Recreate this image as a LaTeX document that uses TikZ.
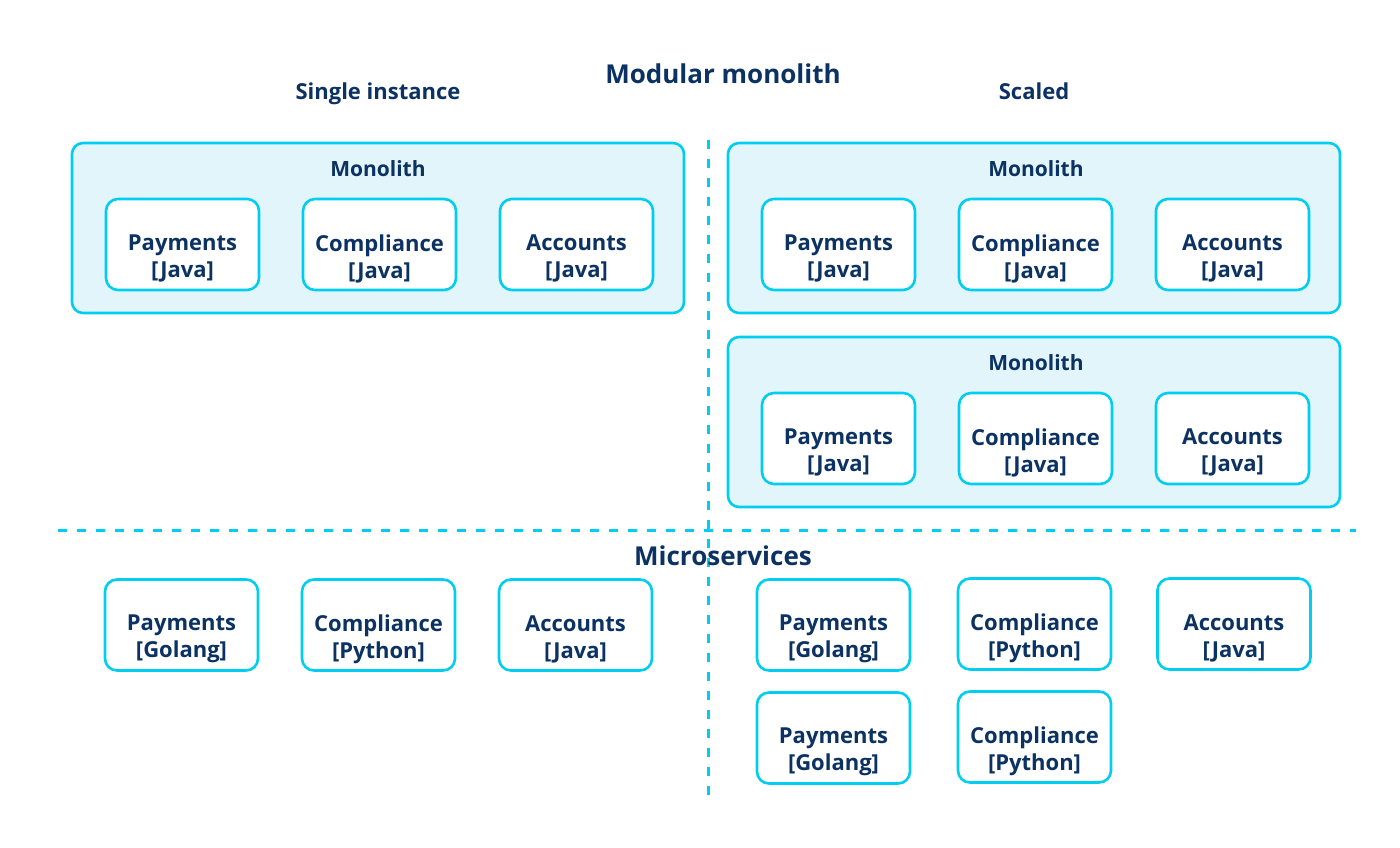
\documentclass[tikz,border=0pt]{standalone}
\usepackage{fontspec}
\setmainfont{Open Sans}[BoldFont={Open Sans Bold}]
\definecolor{cyanb}{HTML}{00CEF0}
\definecolor{lightf}{HTML}{E2F5FB}
\definecolor{navy}{HTML}{0B3262}
\tikzset{
  every node/.style={text=navy, font=\bfseries},
  outerbox/.style={draw=cyanb, fill=lightf, line width=2.6pt, rounded corners=11pt},
  svc/.style={draw=cyanb, fill=white, line width=2.6pt, rounded corners=12pt, minimum width=153pt, minimum height=91pt, inner sep=0pt},
  svctext/.style={align=center, font=\fontsize{22}{27}\selectfont\bfseries, inner sep=0pt, yshift=-14pt},
  divider/.style={draw=cyanb, line width=3pt, dash pattern=on 9pt off 10pt},
  boxtitle/.style={font=\fontsize{21}{25}\selectfont\bfseries, anchor=base},
  subtitle/.style={font=\fontsize{22}{26}\selectfont\bfseries, anchor=base},
  maintitle/.style={font=\fontsize{26}{30}\selectfont\bfseries, anchor=base},
}
\newcommand{\svcnode}[5]{\node[svc, label={[svctext]center:#4\\{}#5}] (#1) at (#2,#3) {};}
\begin{document}
\begin{tikzpicture}[x=1pt,y=-1pt]
\useasboundingbox (0,0) rectangle (1400,847);
% dividers
\coordinate (vtop) at (708,140);
\coordinate (vbot) at (708,802);
\coordinate (hl) at (58,530);
\coordinate (hr) at (1356,530);
\draw[divider] (vtop) -- (vbot);
\draw[divider] (hl) -- (hr);
% titles
\node[maintitle] (mm) at (723,83) {Modular monolith};
\node[subtitle] (si) at (378,99) {Single instance};
\node[subtitle] (sc) at (1034,99) {Scaled};
\node[maintitle] (ms) at (723,565) {Microservices};
% monolith boxes
\draw[outerbox] (72,143) rectangle (684,313);
\node[boxtitle] (m1) at (378,176) {Monolith};
\svcnode{p1}{182.5}{244.5}{Payments}{[Java]}
\svcnode{c1}{379.5}{244.5}{Compliance}{[Java]}
\svcnode{a1}{576.5}{244.5}{Accounts}{[Java]}

\draw[outerbox] (728,143) rectangle (1340,313);
\node[boxtitle] (m2) at (1036,176) {Monolith};
\svcnode{p2}{838.5}{244.5}{Payments}{[Java]}
\svcnode{c2}{1035.5}{244.5}{Compliance}{[Java]}
\svcnode{a2}{1232.5}{244.5}{Accounts}{[Java]}

\draw[outerbox] (728,337) rectangle (1340,507);
\node[boxtitle] (m3) at (1036,370) {Monolith};
\svcnode{p3}{838.5}{438.5}{Payments}{[Java]}
\svcnode{c3}{1035.5}{438.5}{Compliance}{[Java]}
\svcnode{a3}{1232.5}{438.5}{Accounts}{[Java]}

% microservices
\svcnode{mp1}{181.5}{625}{Payments}{[Golang]}
\svcnode{mc1}{378.5}{625}{Compliance}{[Python]}
\svcnode{ma1}{575.5}{625}{Accounts}{[Java]}

\svcnode{mp2}{833.5}{625}{Payments}{[Golang]}
\svcnode{mc2}{1034.5}{624}{Compliance}{[Python]}
\svcnode{ma2}{1234}{624}{Accounts}{[Java]}
\svcnode{mp3}{833.5}{738}{Payments}{[Golang]}
\svcnode{mc3}{1034.5}{737}{Compliance}{[Python]}
\end{tikzpicture}
\end{document}
